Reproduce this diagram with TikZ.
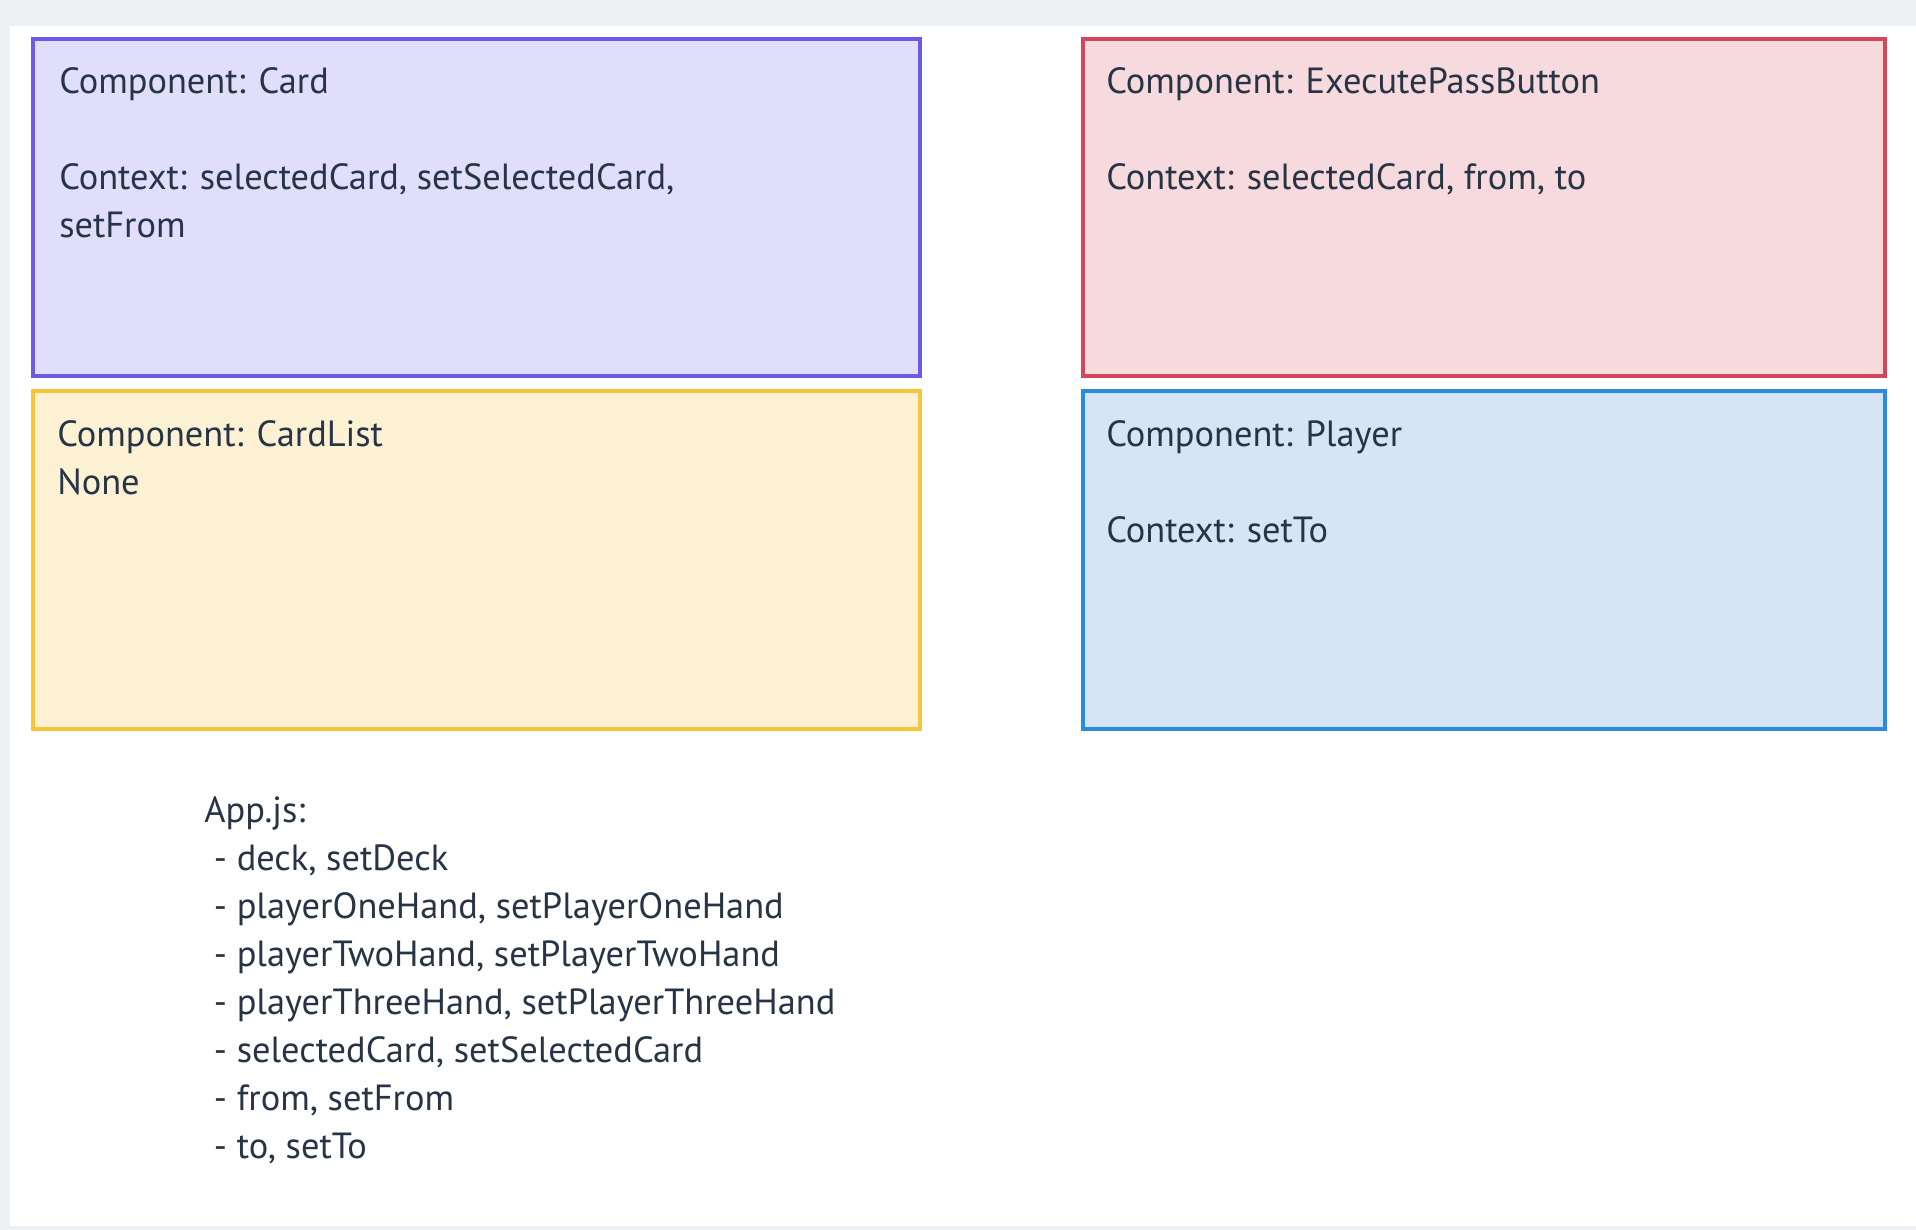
\documentclass[tikz,border=0pt]{standalone}
\usepackage{fontspec}
\setmainfont{PT Sans}
\definecolor{txt}{HTML}{263445}
\definecolor{bggrey}{HTML}{EDF1F4}
\definecolor{cardfill}{HTML}{E0DEFB}
\definecolor{carddraw}{HTML}{6A5AE6}
\definecolor{redfill}{HTML}{F6DADE}
\definecolor{reddraw}{HTML}{D4465C}
\definecolor{yelfill}{HTML}{FDF1D4}
\definecolor{yeldraw}{HTML}{F8C43A}
\definecolor{bluefill}{HTML}{D5E5F5}
\definecolor{bluedraw}{HTML}{2B8BDE}
\tikzset{
  compbox/.style={line width=3pt},
  lbl/.style={anchor=base west, align=left, inner sep=0pt, text=txt,
    font=\fontsize{27.3}{36}\selectfont},
}
\begin{document}
\begin{tikzpicture}[x=0.75pt,y=-0.75pt]
\useasboundingbox (0,0) rectangle (1916,1230);
\fill[bggrey] (0,0) rectangle (1916,1230);
\fill[white] (10,26) rectangle (1916,1226);
% boxes
\draw[compbox, draw=carddraw, fill=cardfill] (33,39) rectangle (920,376);
\draw[compbox, draw=reddraw, fill=redfill] (1083,39) rectangle (1885,376);
\draw[compbox, draw=yeldraw, fill=yelfill] (33,391) rectangle (920,729);
\draw[compbox, draw=bluedraw, fill=bluefill] (1083,391) rectangle (1885,729);
% texts (base anchor = baseline of the last line)
\node[lbl] (card) at (59,238) {Component: Card\\[36pt]Context: selectedCard, setSelectedCard,\\setFrom};
\node[lbl] (exec) at (1106,190) {Component: ExecutePassButton\\[36pt]Context: selectedCard, from, to};
\node[lbl] (cardlist) at (57,494) {Component: CardList\\None};
\node[lbl] (player) at (1106,542) {Component: Player\\[36pt]Context: setTo};
\node[lbl] (app) at (204,1158) {App.js:\\
\ - deck, setDeck\\
\ - playerOneHand, setPlayerOneHand\\
\ - playerTwoHand, setPlayerTwoHand\\
\ - playerThreeHand, setPlayerThreeHand\\
\ - selectedCard, setSelectedCard\\
\ - from, setFrom\\
\ - to, setTo};
\end{tikzpicture}
\end{document}
